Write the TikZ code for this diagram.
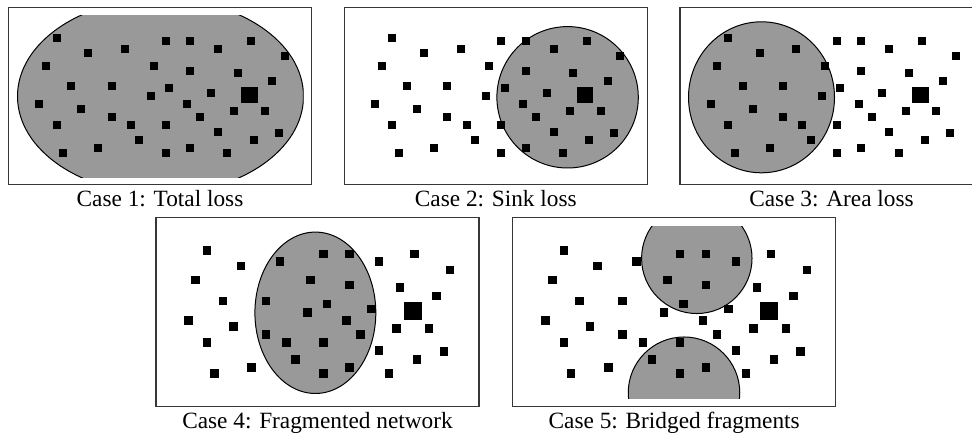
\documentclass[tikz,border=0pt]{standalone}
\usepackage{fontspec}
\setmainfont{Liberation Serif}
\definecolor{lossgray}{RGB}{153,153,153}
\definecolor{framegray}{RGB}{55,55,55}
\tikzset{
  panelframe/.style={draw=framegray, line width=1.2pt},
  lossarea/.style={fill=lossgray, draw=black, line width=1pt},
  sensor/.style={fill=black},
  casecaption/.style={font=\fontsize{23.3}{28}\selectfont, anchor=base, inner sep=0pt},
}
% sensor field in panel coordinates (panel is 303 x 177.4)
\newcommand{\sensorfield}{%
  \foreach \px/\py in {48/31, 79.7/45.3, 116.3/41.3, 157/34, 181.3/34, 209.3/41.3, 242.3/34, 276/49,
                       37.3/58.3, 145/58.3, 181.3/63.3, 229/65.7,
                       62.7/78.3, 103/78.3, 160.3/81, 263.3/73.3,
                       142/88.7, 202.3/85.7,
                       30.7/96.3, 72.7/102, 178.7/96.3, 225.7/104, 256.3/104,
                       48/117.3, 103/109.7, 122.3/117.3, 157/117.3, 191.7/109.7, 209.3/124.7, 270/125.3,
                       130.7/133, 245/133,
                       54.7/146, 89.7/140.3, 157/146, 181.3/140.3, 218.7/146}{%
    \fill[sensor] (\px-4,\py-4) rectangle (\px+4,\py+4);
  }%
  % the sink
  \fill[sensor] (240.7-8.4,87.7-8.4) rectangle (240.7+8.4,87.7+8.4);
}
\newcommand{\panelframe}{\draw[panelframe] (0,0) rectangle (303,177.4);}
\newcommand{\lossclip}{\clip (8,8) rectangle (295,170);}

\begin{document}
\begin{tikzpicture}[x=1pt,y=-1pt]
  \clip (0,0) rectangle (972,435);
  \useasboundingbox (0,0) rectangle (972,435);

  % Case 1: total loss
  \begin{scope}[shift={(8.5,7.3)}]
    \panelframe
    \begin{scope}
      \lossclip
      \draw[lossarea] (152,89) ellipse [x radius=143, y radius=97.5];
    \end{scope}
    \sensorfield
    \node[casecaption] (c1) at (151.5,199) {Case 1: Total loss};
  \end{scope}

  % Case 2: sink loss
  \begin{scope}[shift={(344.3,7.3)}]
    \panelframe
    \begin{scope}
      \lossclip
      \draw[lossarea] (223.3,90) circle [radius=70.7];
    \end{scope}
    \sensorfield
    \node[casecaption] (c2) at (151.5,199) {Case 2: Sink loss};
  \end{scope}

  % Case 3: area loss
  \begin{scope}[shift={(680,7.3)}]
    \panelframe
    \begin{scope}
      \lossclip
      \draw[lossarea] (81.5,90) ellipse [x radius=73, y radius=75.5];
    \end{scope}
    \sensorfield
    \node[casecaption] (c3) at (151.5,199) {Case 3: Area loss};
  \end{scope}

  % Case 4: fragmented network
  \begin{scope}[shift={(156,217.7)}, scale=1.066]
    \panelframe
    \begin{scope}
      \lossclip
      \draw[lossarea] (149.5,89.2) ellipse [x radius=56.7, y radius=75.7];
    \end{scope}
    \sensorfield
    \node[casecaption] (c4) at (151.5,197.5) {Case 4: Fragmented network};
  \end{scope}

  % Case 5: bridged fragments
  \begin{scope}[shift={(512.7,217.7)}, scale=1.066]
    \panelframe
    \begin{scope}
      \lossclip
      \draw[lossarea] (172.7,38.1) circle [radius=51.8];
      \draw[lossarea] (160.7,164.2) circle [radius=52.3];
    \end{scope}
    \sensorfield
    \node[casecaption] (c5) at (151.5,197.5) {Case 5: Bridged fragments};
  \end{scope}
\end{tikzpicture}
\end{document}
